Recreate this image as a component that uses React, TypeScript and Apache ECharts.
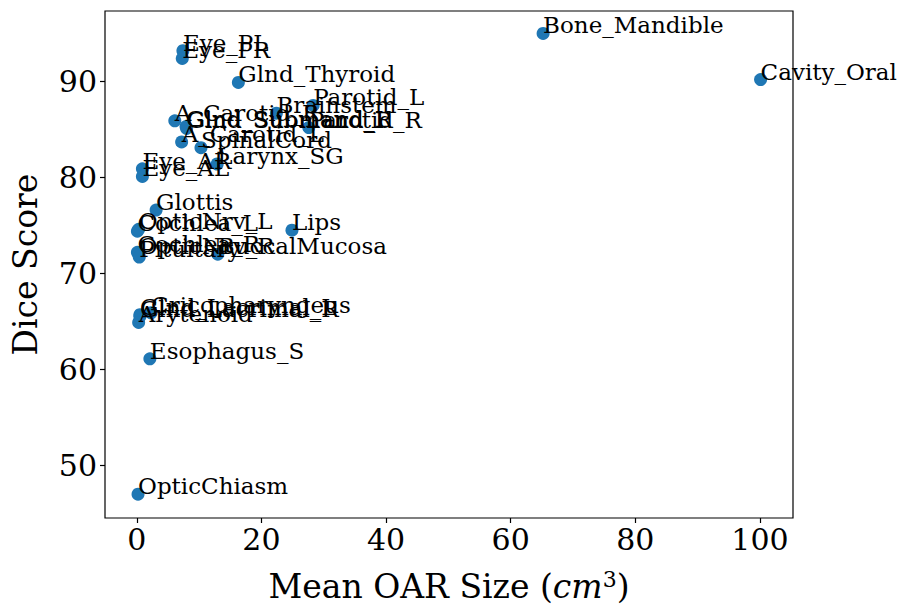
import { useEffect, useRef } from 'react';
import * as echarts from 'echarts';

const organs = [
  'Bone_Mandible', 'Cavity_Oral', 'Eye_PL', 'Eye_PR', 'Glnd_Thyroid',
  'Parotid_L', 'Brainstem', 'A_Carotid_R', 'Glnd_Submand_L', 'Glnd_Submand_R',
  'Parotid_R', 'A_Carotid_L', 'SpinalCord', 'Larynx_SG', 'Eye_AR',
  'Eye_AL', 'Glottis', 'Cochlea_L', 'OpticNrv_L', 'Lips',
  'Cochlea_R', 'OpticNrv_R', 'Pituitary', 'BuccalMucosa', 'Cricopharyngeus',
  'Glnd_Lacrimal_L', 'Glnd_Lacrimal_R', 'Arytenoid', 'Esophagus_S', 'OpticChiasm',
];
const meanSizes = [
  65.2, 100.1, 7.4, 7.3, 16.3,
  28.3, 22.4, 6.1, 7.9, 8.0,
  27.6, 7.2, 10.3, 12.9, 0.9,
  0.9, 3.1, 0.1, 0.3, 24.9,
  0.1, 0.3, 0.4, 13.0, 2.3,
  0.5, 0.5, 0.3, 2.1, 0.2,
];
const diceScores = [
  95.0, 90.2, 93.2, 92.4, 89.9,
  87.5, 86.7, 85.9, 85.3, 85.1,
  85.2, 83.7, 83.1, 81.4, 80.9,
  80.1, 76.6, 74.4, 74.6, 74.5,
  72.2, 72.0, 71.7, 72.0, 65.9,
  65.7, 65.5, 64.9, 61.1, 47.0,
];
const xTicks = [0, 20, 40, 60, 80, 100];
const yTicks = [50, 60, 70, 80, 90];

export default function App() {
  const ref = useRef<HTMLDivElement>(null);
  useEffect(() => {
    const chart = echarts.init(ref.current!, null, { renderer: 'svg' });
    const font = 'DejaVu Serif';
    chart.setOption({
      animation: false,
      grid: {
        left: 105, right: 107, top: 11, bottom: 86,
        show: true, borderColor: '#000', borderWidth: 1.2, backgroundColor: 'transparent',
      },
      xAxis: {
        type: 'value', min: -5.1, max: 105.3,
        splitLine: { show: false },
        axisLine: { show: false, onZero: false },
        axisTick: { show: true, customValues: xTicks, length: 5, lineStyle: { color: '#000', width: 1.2 } },
        axisLabel: { customValues: xTicks, color: '#000', fontFamily: font, fontSize: 30, margin: 6 },
        name: 'Mean OAR Size ({it|cm}{sup|3})',
        nameLocation: 'middle',
        nameGap: 50,
        nameTextStyle: {
          color: '#000', fontFamily: font, fontSize: 33,
          rich: {
            it: { fontStyle: 'italic', fontFamily: font, fontSize: 33, color: '#000' },
            sup: { fontFamily: font, fontSize: 22, color: '#000', verticalAlign: 'top', padding: [0, 0, 15, 0] },
          },
        },
      },
      yAxis: {
        type: 'value', min: 44.52, max: 97.34,
        splitLine: { show: false },
        axisLine: { show: false, onZero: false },
        axisTick: { show: true, customValues: yTicks, length: 5, lineStyle: { color: '#000', width: 1.2 } },
        axisLabel: { customValues: yTicks, color: '#000', fontFamily: font, fontSize: 30, margin: 8 },
        name: 'Dice Score',
        nameLocation: 'middle',
        nameGap: 63,
        nameTextStyle: { color: '#000', fontFamily: font, fontSize: 33 },
      },
      series: [
        {
          type: 'scatter',
          symbolSize: 13,
          silent: true,
          itemStyle: { color: '#1f77b4', opacity: 1 },
          data: meanSizes.map((s, i) => [s, diceScores[i], organs[i]]),
          label: {
            show: true,
            formatter: (p: any) => p.data[2],
            position: [6.5, -1.5],
            align: 'left',
            verticalAlign: 'middle',
            fontFamily: font,
            fontSize: 23,
            color: '#000',
          },
          emphasis: { disabled: true },
        },
      ],
    });
    return () => chart.dispose();
  }, []);
  return (
    <div
      ref={ref}
      style={{ position: 'absolute', left: 0, top: 0, width: 900, height: 608, overflow: 'visible' }}
    />
  );
}
